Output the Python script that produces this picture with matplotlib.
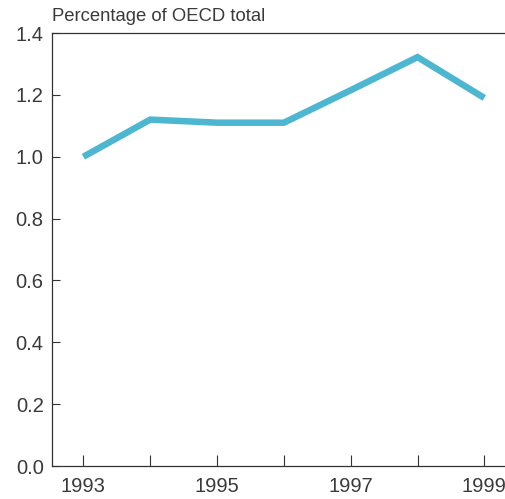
import matplotlib
matplotlib.use("Agg")
import matplotlib.pyplot as plt

years = [1993, 1994, 1995, 1996, 1997, 1998, 1999]
values = [1.00, 1.12, 1.11, 1.11, 1.215, 1.322, 1.19]
xtick_years = [1993, 1994, 1995, 1996, 1997, 1998, 1999]
xtick_labels = ["1993", "", "1995", "", "1997", "", "1999"]
yticks = [0.0, 0.2, 0.4, 0.6, 0.8, 1.0, 1.2, 1.4]

plt.rcParams['font.family'] = ['Liberation Sans', 'DejaVu Sans']
fig = plt.figure(figsize=(5.06, 4.99), dpi=100)
ax = fig.add_axes([52/506, 1-466/499, 1-52/506 + 0.01, (466-33)/499])
ax.plot(years, values, color="#4db6d0", lw=4.7, solid_joinstyle="miter", solid_capstyle="butt")
ax.set_xlim(1992.53, 1999.4)
ax.set_ylim(0, 1.4)
ax.set_xticks(xtick_years)
ax.set_xticklabels(xtick_labels)
ax.set_yticks(yticks)
ax.set_yticklabels([f"{v:.1f}" for v in yticks])
ax.tick_params(axis="x", direction="in", length=8, width=0.8, color="#333333", labelsize=14.5, labelcolor="#3a3a3a", pad=8)
ax.tick_params(axis="y", direction="in", length=6, width=0.8, color="#333333", labelsize=14.5, labelcolor="#3a3a3a", pad=6)
for s in ["left", "bottom", "top"]:
    ax.spines[s].set_linewidth(0.9)
    ax.spines[s].set_color("#333333")
ax.spines["right"].set_visible(False)
ax.text(0.0, 1.018, "Percentage of OECD total", transform=ax.transAxes, fontsize=13.3, color="#3a3a3a", ha="left", va="bottom")
fig.savefig("out.png", dpi=100)
